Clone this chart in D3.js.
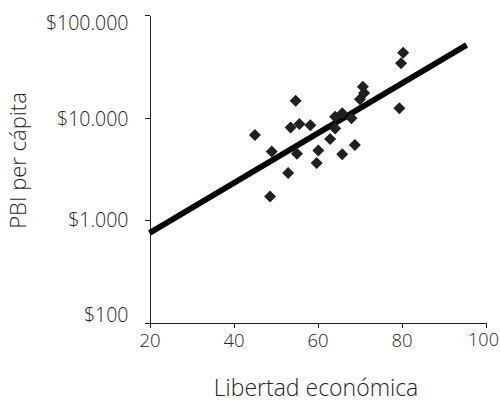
<!DOCTYPE html>
<html>
<head>
<meta charset="utf-8">
<script src="https://cdn.jsdelivr.net/npm/d3@7"></script>
<style>
  html, body { margin: 0; padding: 0; background: #fff; }
  svg { display: block; }
  .axis text { font-family: "Open Sans", sans-serif; font-size: 19.5px; font-weight: 300; fill: #231f20; }
  .xaxis text { font-size: 18.5px; }
  .axis path, .axis line { stroke: #231f20; stroke-width: 1; shape-rendering: crispEdges; }
  .title { font-family: "Open Sans", sans-serif; font-weight: 300; fill: #231f20; }
</style>
</head>
<body>
<svg id="chart" width="500" height="402"></svg>
<script>
// Data (Libertad económica vs PBI per cápita)
const libertad = [80.4, 79.9, 70.8, 71.1, 70.1, 79.5, 54.8, 65.9, 64.2, 68.1,
                  53.6, 55.7, 58.3, 45.1, 64.2, 63.0, 68.9, 65.9, 49.1, 55.1,
                  60.2, 59.8, 53.0, 48.7];
const pbi = [42870, 33800, 19980, 17340, 15060, 12300, 14590, 10990, 10180, 9820,
             7990, 8640, 8390, 6750, 7810, 6170, 5390, 4385, 4660, 4435,
             4765, 3600, 2875, 1695];
const trendX = [20, 95.5];
const trendY = [747, 50900];
const xTicks = [20, 40, 60, 80, 100];
const yTicks = [100, 1000, 10000, 100000];
const yLabels = ["$100", "$1.000", "$10.000", "$100.000"];
const xTitle = "Libertad económica";
const yTitle = "PBI per cápita";

const svg = d3.select("#chart");
const x = d3.scaleLinear().domain([20, 100]).range([149.5, 485.5]);
const y = d3.scaleLog().domain([100, 100000]).range([322.5, 15]);

// label vertical nudges (labels kept inside chart span, as in the reference)
const labelShift = {100: -7, 1000: 0, 10000: 1.5, 100000: 8};

const gx = svg.append("g").attr("class", "axis xaxis")
  .attr("transform", `translate(0,${y(100)})`)
  .call(d3.axisBottom(x).tickValues(xTicks).tickSize(5).tickSizeOuter(0).tickPadding(6));
gx.selectAll(".tick text").filter(d => d === 100).attr("dx", "-2.5px").style("font-size", "18px");

const gy = svg.append("g").attr("class", "axis")
  .attr("transform", `translate(${x(20)},0)`)
  .call(d3.axisLeft(y).tickValues(yTicks).tickSize(5).tickSizeOuter(0).tickPadding(16)
    .tickFormat((d, i) => yLabels[i]));
gy.selectAll(".tick text").attr("dy", d => (labelShift[d] + 0.32 * 19.5) + "px");

// regression line
svg.append("line")
  .attr("x1", x(trendX[0])).attr("y1", y(trendY[0]))
  .attr("x2", x(trendX[1])).attr("y2", y(trendY[1]))
  .attr("stroke", "#000").attr("stroke-width", 5.8);

// points (diamonds)
const sym = d3.symbol().type(d3.symbolSquare).size(72);
svg.append("g").selectAll("path")
  .data(libertad.map((v, i) => [v, pbi[i]]))
  .join("path")
  .attr("d", sym)
  .attr("transform", d => `translate(${x(d[0])},${y(d[1])}) rotate(45)`)
  .attr("fill", "#231f20");

svg.append("text").attr("class", "title").style("font-size", "23px")
  .attr("x", 316).attr("y", 396).attr("text-anchor", "middle").text(xTitle);
svg.append("text").attr("class", "title").style("font-size", "22px")
  .attr("transform", "translate(26,160.5) rotate(-90)")
  .attr("text-anchor", "middle").text(yTitle);
</script>
</body>
</html>
